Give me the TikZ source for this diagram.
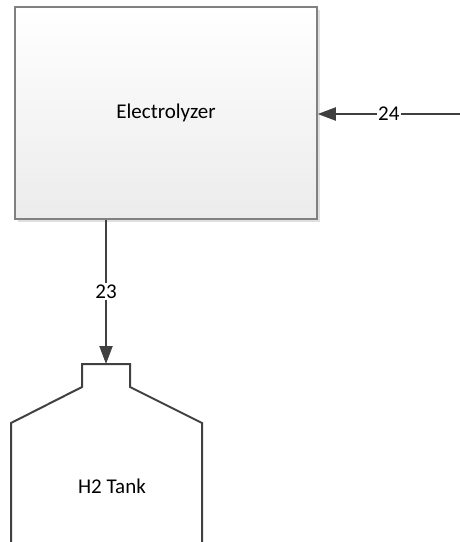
\documentclass[tikz,border=0pt]{standalone}
\usepackage{fontspec}
\setmainfont{Carlito}
\usetikzlibrary{arrows.meta,shadows}
\definecolor{boxline}{HTML}{808080}
\definecolor{flowline}{HTML}{404040}
\definecolor{boxbottom}{HTML}{EBEBEB}
\tikzset{
  unitbox/.style={draw=boxline, line width=1.5pt, top color=white, bottom color=boxbottom,
    minimum width=302pt, minimum height=212pt, inner sep=0pt,
    drop shadow={shadow xshift=3pt, shadow yshift=-3pt, fill=black, opacity=0.12}},
  flow/.style={draw=flowline, line width=2pt, -{Triangle[length=18pt,width=13pt]}},
  streamlabel/.style={fill=white, inner sep=1.5pt, text=black},
  vessel/.style={draw=flowline, line width=2pt, line join=miter},
}
\begin{document}
\begin{tikzpicture}[x=1pt,y=-1pt,font=\fontsize{21}{25}\selectfont]
\useasboundingbox (0,0) rectangle (460,542);
% electrolyzer unit
\node[unitbox] (elec) at (166,113) {Electrolyzer};
% hydrogen storage vessel
\coordinate (tanktop) at (106,364);
\draw[vessel] (11,542) -- (11,423) -- (82,387) -- (82,364) -- (130,364) -- (130,387) -- (202,423) -- (202,542);
\node (tank) at (112,486) {H2 Tank};
% streams
\coordinate (in24) at (460,114);
\draw[flow] (in24) -- node[streamlabel] {24} (elec.east |- in24);
\draw[flow] (elec.south -| tanktop) -- node[streamlabel] {23} (tanktop);
\end{tikzpicture}
\end{document}
